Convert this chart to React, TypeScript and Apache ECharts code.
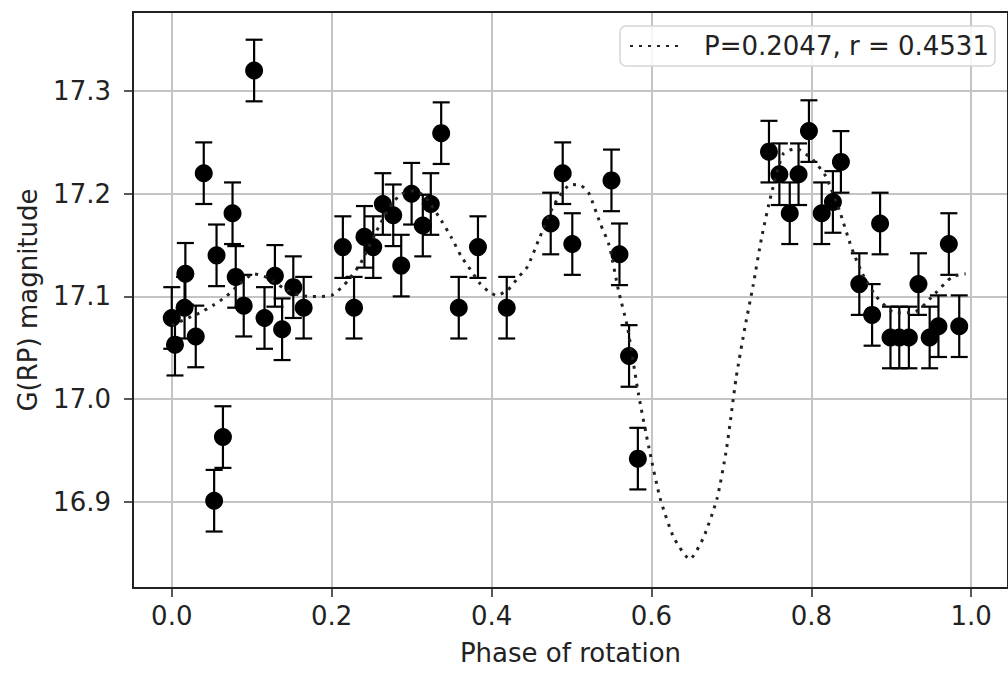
import React, { useEffect, useRef } from "react";
import * as echarts from "echarts";

// Observations: phase of rotation, G(RP) magnitude, uncertainty
const phase = [
  0.0, 0.004, 0.016, 0.017, 0.03, 0.04, 0.053, 0.056, 0.064, 0.076, 0.08, 0.09,
  0.103, 0.116, 0.129, 0.138, 0.152, 0.165, 0.214, 0.228, 0.241, 0.252, 0.264,
  0.277, 0.287, 0.3, 0.314, 0.324, 0.337, 0.359, 0.383, 0.419, 0.474, 0.489,
  0.501, 0.55, 0.56, 0.572, 0.583, 0.747, 0.76, 0.773, 0.784, 0.797, 0.813,
  0.827, 0.837, 0.86, 0.876, 0.886, 0.899, 0.91, 0.922, 0.934, 0.948, 0.959,
  0.972, 0.985,
];
const magnitude = [
  17.079, 17.053, 17.089, 17.122, 17.061, 17.22, 16.901, 17.14, 16.963, 17.181,
  17.119, 17.091, 17.32, 17.079, 17.12, 17.068, 17.109, 17.089, 17.148, 17.089,
  17.158, 17.148, 17.19, 17.179, 17.13, 17.2, 17.169, 17.19, 17.259, 17.089,
  17.148, 17.089, 17.171, 17.22, 17.151, 17.213, 17.141, 17.042, 16.942, 17.241,
  17.219, 17.181, 17.219, 17.261, 17.181, 17.192, 17.231, 17.112, 17.082,
  17.171, 17.06, 17.06, 17.06, 17.112, 17.06, 17.071, 17.151, 17.071,
];
const magErr = [
  0.03, 0.03, 0.03, 0.03, 0.03, 0.03, 0.03, 0.03, 0.03, 0.03, 0.03, 0.03, 0.03,
  0.03, 0.03, 0.03, 0.03, 0.03, 0.03, 0.03, 0.03, 0.03, 0.03, 0.03, 0.03, 0.03,
  0.03, 0.03, 0.03, 0.03, 0.03, 0.03, 0.03, 0.03, 0.03, 0.03, 0.03, 0.03, 0.03,
  0.03, 0.03, 0.03, 0.03, 0.03, 0.03, 0.03, 0.03, 0.03, 0.03, 0.03, 0.03, 0.03,
  0.03, 0.03, 0.03, 0.03, 0.03, 0.03,
];

// Fitted light curve (dotted)
const fitPhase = [
  0.0, 0.035, 0.053, 0.068, 0.085, 0.103, 0.12, 0.14, 0.16, 0.176, 0.188, 0.2,
  0.213, 0.221, 0.236, 0.259, 0.275, 0.288, 0.303, 0.317, 0.337, 0.35, 0.362,
  0.371, 0.385, 0.396, 0.406, 0.42, 0.435, 0.445, 0.46, 0.478, 0.499, 0.512,
  0.522, 0.536, 0.547, 0.559, 0.57, 0.584, 0.597, 0.611, 0.628, 0.648, 0.665,
  0.682, 0.694, 0.706, 0.717, 0.727, 0.738, 0.75, 0.765, 0.781, 0.802, 0.818,
  0.835, 0.85, 0.864, 0.881, 0.905, 0.93, 0.955, 0.976, 0.993,
];
const fitMag = [
  17.072, 17.084, 17.092, 17.1, 17.112, 17.122, 17.118, 17.108, 17.101, 17.1,
  17.1, 17.101, 17.109, 17.116, 17.132, 17.168, 17.19, 17.2, 17.203, 17.197,
  17.174, 17.157, 17.139, 17.129, 17.113, 17.105, 17.101, 17.106, 17.12, 17.129,
  17.157, 17.189, 17.209, 17.208, 17.2, 17.171, 17.15, 17.105, 17.07, 17.004,
  16.952, 16.903, 16.865, 16.844, 16.865, 16.903, 16.952, 17.021, 17.07, 17.11,
  17.158, 17.2, 17.239, 17.244, 17.233, 17.217, 17.184, 17.148, 17.122, 17.1,
  17.084, 17.085, 17.103, 17.119, 17.122,
];

const legendLabel = "P=0.2047, r = 0.4531";
const xTitle = "Phase of rotation";
const yTitle = "G(RP) magnitude";

const FONT = "DejaVu Sans";

export default function App() {
  const ref = useRef<HTMLDivElement>(null);

  useEffect(() => {
    if (!ref.current) return;
    const chart = echarts.init(ref.current, undefined, { renderer: "svg" });

    const points = phase.map((p, i) => [p, magnitude[i]]);
    const errData = phase.map((p, i) => [p, magnitude[i], magErr[i]]);
    const fit = fitPhase.map((p, i) => [p, fitMag[i]]);

    chart.setOption({
      animation: false,
      backgroundColor: "#ffffff",
      grid: {
        left: 133,
        top: 12,
        width: 880,
        height: 576,
        show: true,
        borderColor: "#222",
        borderWidth: 2,
        containLabel: false,
        z: 10,
      },
      legend: {
        show: true,
        left: 620,
        top: 26,
        orient: "horizontal",
        data: [{ name: legendLabel }],
        itemWidth: 51,
        itemHeight: 14,
        padding: [7, 6, 7, 9],
        borderColor: "#d6d6d6",
        borderWidth: 1.5,
        borderRadius: 6,
        backgroundColor: "rgba(255,255,255,0.85)",
        itemStyle: { opacity: 0 },
        textStyle: {
          fontFamily: FONT,
          fontSize: 26,
          color: "#222",
          padding: [0, 0, 0, 18],
        },
      },
      xAxis: {
        type: "value",
        min: -0.0485,
        max: 1.046,
        splitNumber: 5,
        name: xTitle,
        nameLocation: "middle",
        nameGap: 52,
        nameTextStyle: { fontFamily: FONT, fontSize: 26, color: "#222" },
        axisLine: { show: true, onZero: false, lineStyle: { color: "#222", width: 2 } },
        axisTick: { show: true, length: 9, lineStyle: { color: "#222", width: 1.5 } },
        axisLabel: {
          fontFamily: FONT,
          fontSize: 26,
          color: "#222",
          margin: 15,
          showMinLabel: false,
          showMaxLabel: false,
          formatter: (v: number) => v.toFixed(1),
        },
        splitLine: {
          show: true,
          showMinLine: false,
          showMaxLine: false,
          lineStyle: { color: "#c4c4c4", width: 2 },
        },
      },
      yAxis: {
        type: "value",
        min: 16.816,
        max: 17.377,
        splitNumber: 5,
        name: yTitle,
        nameLocation: "middle",
        nameGap: 92,
        nameRotate: 90,
        nameTextStyle: { fontFamily: FONT, fontSize: 26, color: "#222" },
        axisLine: { show: true, onZero: false, lineStyle: { color: "#222", width: 2 } },
        axisTick: { show: true, length: 9, lineStyle: { color: "#222", width: 1.5 } },
        axisLabel: {
          fontFamily: FONT,
          fontSize: 26,
          color: "#222",
          margin: 22,
          showMinLabel: false,
          showMaxLabel: false,
          formatter: (v: number) => v.toFixed(1),
        },
        splitLine: {
          show: true,
          showMinLine: false,
          showMaxLine: false,
          lineStyle: { color: "#c4c4c4", width: 2 },
        },
      },
      series: [
        {
          type: "custom",
          name: "errors",
          data: errData,
          z: 3,
          renderItem: (params: any, api: any) => {
            const x = api.value(0);
            const y = api.value(1);
            const e = api.value(2);
            const top = api.coord([x, y + e]);
            const bot = api.coord([x, y - e]);
            const cap = 8.5;
            const style = { stroke: "#000", lineWidth: 2.2 };
            return {
              type: "group",
              children: [
                { type: "line", shape: { x1: top[0], y1: top[1], x2: bot[0], y2: bot[1] }, style },
                { type: "line", shape: { x1: top[0] - cap, y1: top[1], x2: top[0] + cap, y2: top[1] }, style },
                { type: "line", shape: { x1: bot[0] - cap, y1: bot[1], x2: bot[0] + cap, y2: bot[1] }, style },
              ],
            };
          },
        },
        {
          type: "scatter",
          name: "obs",
          data: points,
          symbol: "circle",
          symbolSize: 18,
          itemStyle: { color: "#000", opacity: 1 },
          z: 4,
        },
        {
          type: "line",
          name: legendLabel,
          data: fit,
          showSymbol: false,
          symbol: "none",
          smooth: 0.2,
          color: "#222",
          itemStyle: { color: "#222", opacity: 0 },
          lineStyle: { color: "#222", width: 3, type: [3, 6], opacity: 1 },
          z: 5,
        },
      ],
    });

    return () => chart.dispose();
  }, []);

  return (
    <div
      ref={ref}
      style={{ position: "fixed", left: 0, top: 0, width: 1008, height: 675, background: "#fff" }}
    />
  );
}
